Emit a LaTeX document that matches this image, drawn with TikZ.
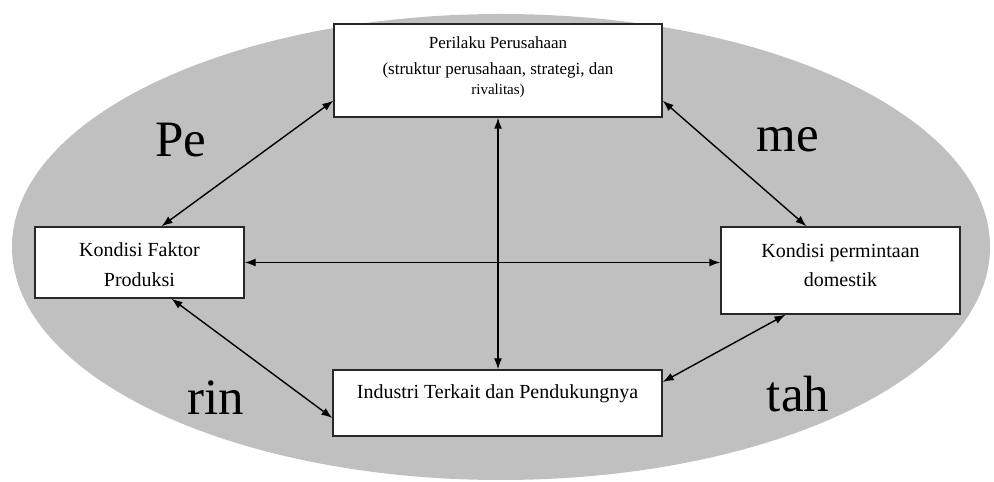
\documentclass[tikz,border=0pt]{standalone}
\usepackage{fontspec}
\setmainfont{Liberation Serif}
\usetikzlibrary{arrows.meta}
\definecolor{bggray}{RGB}{192,192,192}
\definecolor{boxline}{RGB}{40,40,40}
\tikzset{
  box/.style={draw=boxline, line width=1.4pt, fill=white, inner sep=0pt},
  lbl/.style={anchor=base, inner sep=0pt, text=black},
  big/.style={lbl, font=\fontsize{51}{55}\selectfont},
  conn/.style={{Latex[length=11pt,width=8pt]}-{Latex[length=11pt,width=8pt]}, line width=1.4pt, black}
}
\begin{document}
\begin{tikzpicture}[x=1pt,y=1pt]
\useasboundingbox (0,0) rectangle (994,482);
\fill[bggray] (501,235) ellipse [x radius=489, y radius=233];
% boxes
\node[box, minimum width=328pt, minimum height=93pt] (top) at (498,411.5) {};
\node[box, minimum width=209pt, minimum height=71pt] (left) at (139.5,219.5) {};
\node[box, minimum width=239pt, minimum height=87pt] (right) at (840.5,211.5) {};
\node[box, minimum width=329pt, minimum height=66pt] (bot) at (497.5,79) {};
% texts
\node[lbl, font=\fontsize{17}{20}\selectfont] (t1) at (498,433) {Perilaku Perusahaan};
\node[lbl, font=\fontsize{17}{20}\selectfont] (t2) at (498,407) {(struktur perusahaan, strategi, dan};
\node[lbl, font=\fontsize{15}{18}\selectfont] (t3) at (498,387) {rivalitas)};
\node[lbl, font=\fontsize{20}{24}\selectfont] (l1) at (139.5,225) {Kondisi Faktor};
\node[lbl, font=\fontsize{20}{24}\selectfont] (l2) at (139.5,195) {Produksi};
\node[lbl, font=\fontsize{20}{24}\selectfont] (r1) at (840.5,224) {Kondisi permintaan};
\node[lbl, font=\fontsize{20}{24}\selectfont] (r2) at (840.5,195) {domestik};
\node[lbl, font=\fontsize{20}{24}\selectfont] (b1) at (497.5,83) {Industri Terkait dan Pendukungnya};
% big labels
\node[big] (pe) at (180.5,325) {Pe};
\node[big] (me) at (788,330) {me};
\node[big] (rin) at (215.5,67) {rin};
\node[big] (tah) at (798,70) {tah};
% connectors
\draw[conn] ([yshift=17pt]top.south west) -- ([xshift=22pt]left.north);
\draw[conn] ([yshift=17pt]top.south east) -- ([xshift=-34pt]right.north);
\draw[conn] ([xshift=32pt]left.south) -- ([yshift=-15pt]bot.west);
\draw[conn] ([xshift=-55pt]right.south) -- ([yshift=21pt]bot.east);
\draw[conn] (top.south) -- (top.south |- bot.north);
\draw[conn] (left.east) -- (left.east -| right.west);
\end{tikzpicture}
\end{document}
